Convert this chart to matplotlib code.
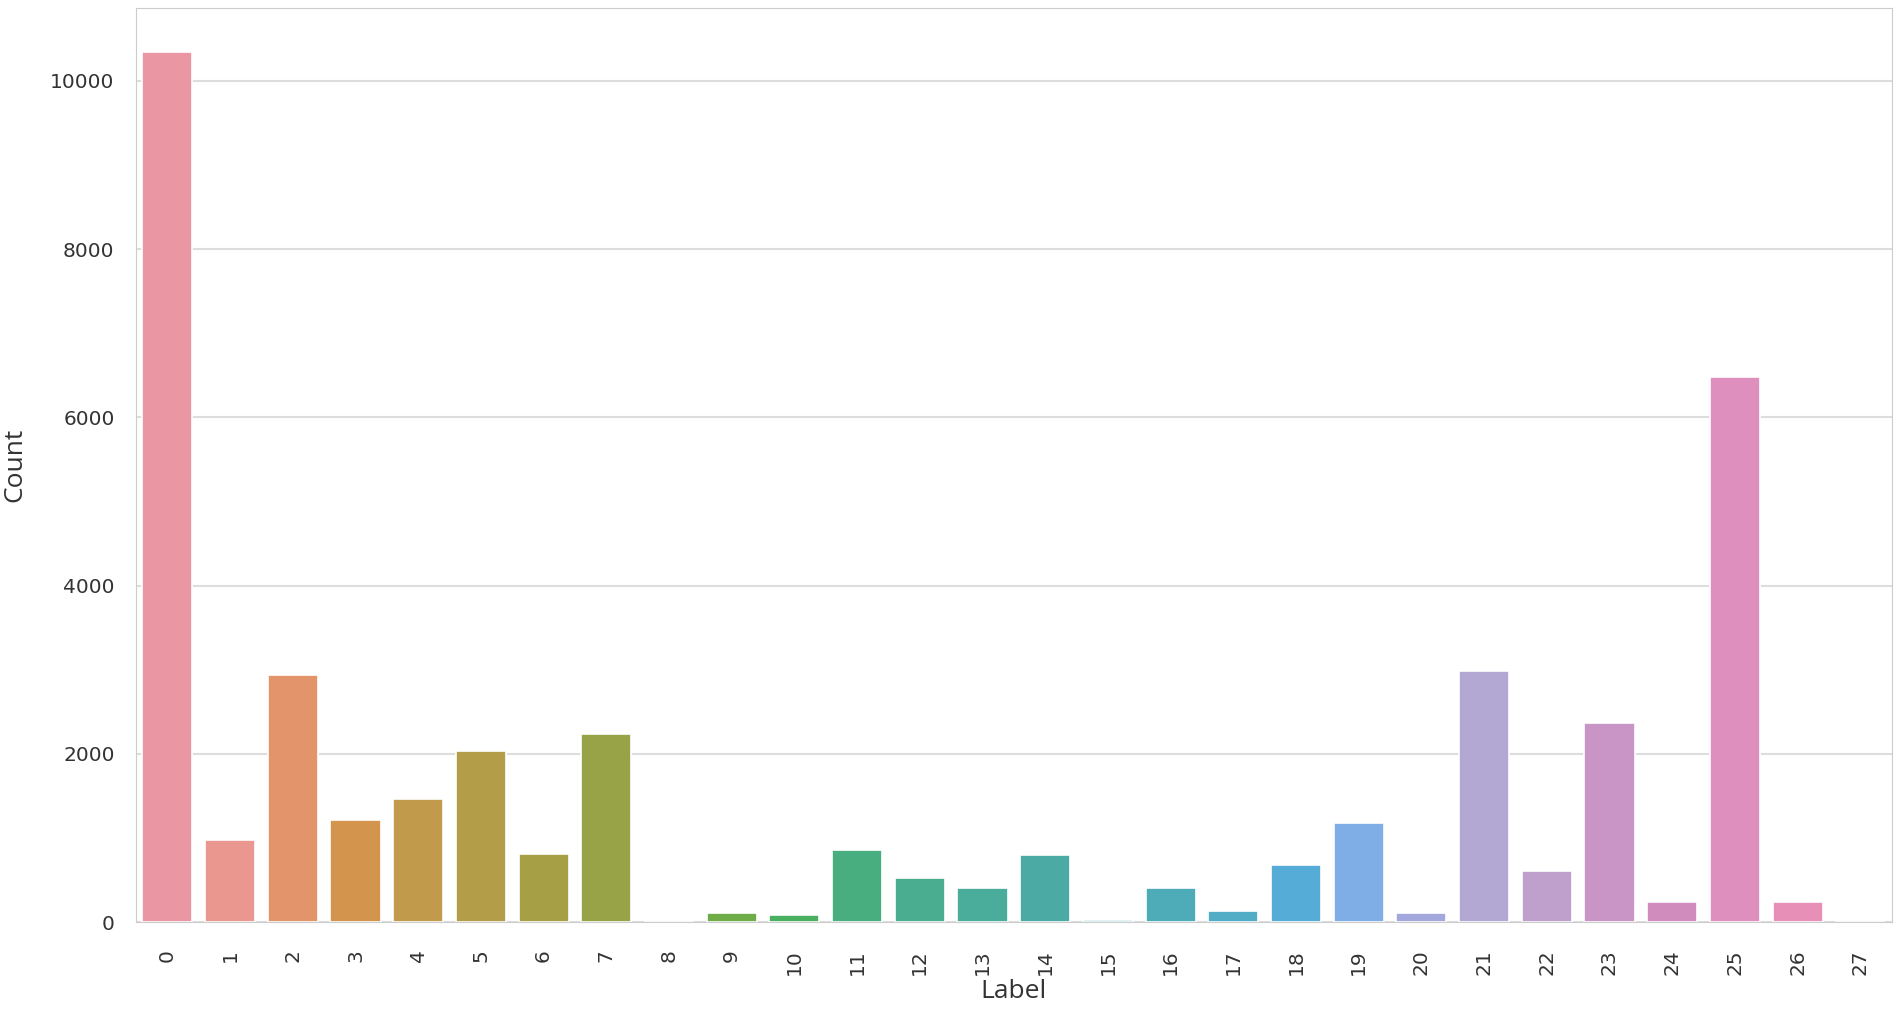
import numpy as np
import matplotlib
matplotlib.use("Agg")
import matplotlib.pyplot as plt
import seaborn as sns

# counts per label
labels = [str(i) for i in range(28)]
counts = [10350, 976, 2932, 1214, 1464, 2028, 810, 2238, 4, 112,
          88, 857, 524, 401, 802, 29, 401, 127, 679, 1179,
          112, 2986, 607, 2362, 234, 6481, 234, 3]

sns.set_style("whitegrid")
plt.rcParams['font.family'] = ['Open Sans', 'DejaVu Sans']

# seaborn countplot colours; the violet/pink end looks more muted in the picture
pal = [sns.desaturate(c, 0.75) for c in sns.husl_palette(len(labels), l=.7)]
muted = {20: '#a3a8dc', 21: '#b3a7d4', 22: '#bf9fcb', 23: '#c895c6',
         24: '#d08cbd', 25: '#de8fbd', 26: '#e88fb8', 27: '#e890b0'}
for k, v in muted.items():
    pal[k] = v

fig = plt.figure(figsize=(19, 10.1), dpi=100)
ax = fig.add_axes([0.0716, 0.0871, 0.924, 0.905])

x = np.arange(len(labels))
ax.bar(x, counts, width=0.8, color=pal, edgecolor='white', linewidth=1.2, zorder=2)
ax.set_xlim(-0.5, len(labels) - 0.5)
ax.set_ylim(0, max(counts) * 1.05)
ax.set_yticks([0, 2000, 4000, 6000, 8000, 10000])
ax.set_xticks(x)
ax.set_xticklabels(labels, rotation=90)
for t in ax.get_xticklabels() + ax.get_yticklabels():
    t.set_family('DejaVu Sans')
ax.tick_params(axis='both', labelsize=14.5, colors='#333333')
ax.tick_params(axis='x', pad=16)
ax.tick_params(axis='y', pad=12)
ax.xaxis.grid(False)
ax.yaxis.grid(True, color='#dddddd', linewidth=1.5)
for s in ax.spines.values():
    s.set_color('#cccccc')
ax.set_xlabel("Label", fontsize=19, color='#333333')
ax.set_ylabel("Count", fontsize=19, color='#333333')
ax.xaxis.set_label_coords(0.5, -0.062)
ax.yaxis.set_label_coords(-0.062, 0.5)

fig.savefig("out.png", dpi=100)
